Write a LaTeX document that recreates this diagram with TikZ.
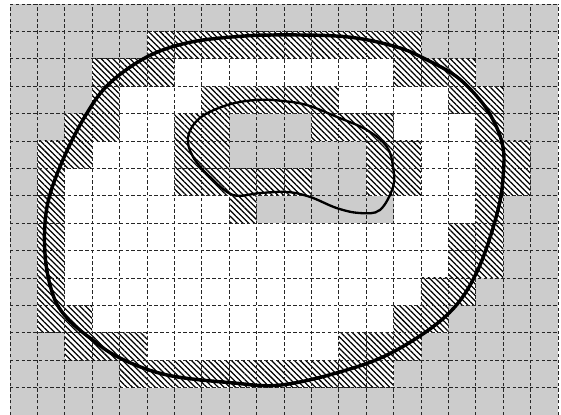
\documentclass[tikz,border=0pt]{standalone}
\usetikzlibrary{patterns.meta}

\tikzset{
  outcell/.style={fill=black!20},
  incell/.style={fill=white},
  edgecell/.style={fill=white, postaction={pattern={Lines[angle=-45,distance=2.1pt,line width=0.65pt]}, pattern color=black}},
  gridline/.style={black!85, line width=0.45pt, dash pattern=on 1.8pt off 1.2pt},
  region/.style={black, line width=1.8pt},
  hole/.style={black, line width=1.2pt}
}

\begin{document}
\begin{tikzpicture}[x=0.5cm, y=0.5cm]
\useasboundingbox (-0.365,0) rectangle (20.11,15.146);

\fill[outcell] (0,0) rectangle (20,15);

% inside cells, row r counted from the top
\foreach \r/\xs in {2/{6,...,13}, 3/{4,5,6,12,13,14,15}, 4/{4,5,14,15,16},
  5/{3,4,5,15,16}, 6/{2,3,4,5,15,16}, 7/{2,...,7,14,15,16}, 8/{2,...,15},
  9/{2,...,15}, 10/{2,...,14}, 11/{3,...,13}, 12/{5,...,11}}
  \foreach \x in \xs
    \fill[incell] (\x,14-\r) rectangle ++(1,1);

% boundary cells
\foreach \r/\xs in {1/{5,...,14}, 2/{3,4,5,14,15,16}, 3/{3,7,8,9,10,11,16,17},
  4/{2,3,6,7,11,12,13,17}, 5/{1,2,6,7,13,14,17,18}, 6/{1,6,7,8,9,10,13,14,17,18},
  7/{1,8,...,13,17}, 8/{1,16,17}, 9/{1,16,17}, 10/{1,15,16}, 11/{1,2,14,15},
  12/{2,3,4,12,13,14}, 13/{4,...,13}}
  \foreach \x in \xs
    \path[edgecell] (\x,14-\r) rectangle ++(1,1);

\draw[gridline, step=0.5cm] (0,0) grid (20,15);

\draw[region] plot[smooth cycle, tension=0.6] coordinates {
  (9.85,13.87) (12.30,13.80) (14.12,13.43) (15.22,12.96) (16.31,12.34)
  (17.15,11.50) (17.63,10.77) (17.96,9.93) (18.02,9.05) (17.81,7.48)
  (17.04,5.22) (15.95,3.65) (13.98,2.30) (12.04,1.57) (9.85,1.09)
  (8.14,1.17) (5.73,1.46) (4.01,2.08) (2.92,2.81) (2.08,3.54)
  (1.57,4.38) (1.28,5.84) (1.35,7.59) (1.93,9.31) (2.81,11.02)
  (3.65,12.12) (5.00,13.07) (6.46,13.58) (8.14,13.80)};

\draw[hole] plot[smooth cycle, tension=0.6] coordinates {
  (9.01,11.50) (7.92,11.31) (6.93,10.84) (6.50,10.15) (6.68,9.42)
  (7.30,8.69) (8.14,8.03) (9.12,8.10) (10.11,8.14) (10.95,7.96)
  (11.93,7.55) (12.77,7.37) (13.50,7.48) (13.98,8.32) (13.98,9.05)
  (13.76,9.78) (13.03,10.40) (11.93,10.88) (10.84,11.31) (9.96,11.46)};
\end{tikzpicture}
\end{document}
